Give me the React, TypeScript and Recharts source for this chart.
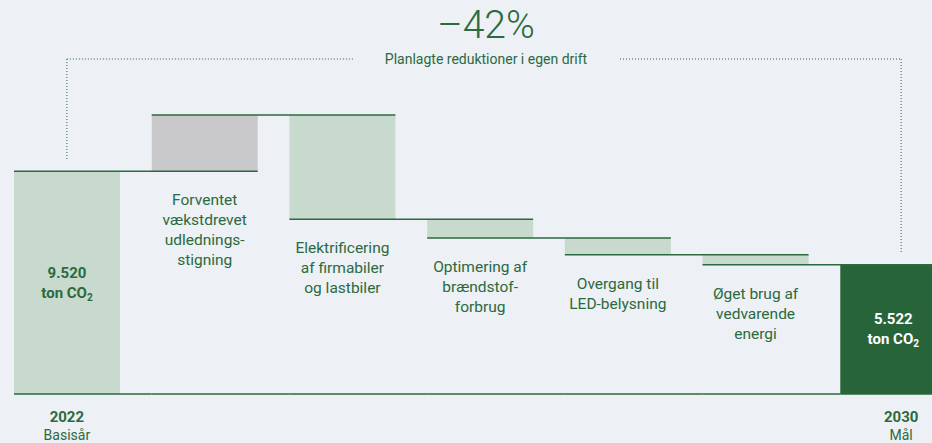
import React from 'react';
import { BarChart, Bar, XAxis, YAxis, LabelList } from 'recharts';

// Waterfall: CO2-reduktioner 2022 -> 2030
const categories = ['2022', 'Vækst', 'Elektrificering', 'Optimering', 'LED', 'Vedvarende', '2030'];
const changes = [9520, 2400, -4450, -800, -720, -428, 5522];
const kinds = ['total', 'up', 'down', 'down', 'down', 'down', 'total'];
const stepLabels = [
  [],
  ['Forventet', 'vækstdrevet', 'udlednings-', 'stigning'],
  ['Elektrificering', 'af firmabiler', 'og lastbiler'],
  ['Optimering af', 'brændstof-', 'forbrug'],
  ['Overgang til', 'LED-belysning'],
  ['Øget brug af', 'vedvarende', 'energi'],
  [],
];
const totalLabels = ['9.520', '', '', '', '', '', '5.522'];
const yearLabels = ['2022', '', '', '', '', '', '2030'];
const yearSubLabels = ['Basisår', '', '', '', '', '', 'Mål'];
const headline = '–42%';
const subtitle = 'Planlagte reduktioner i egen drift';

const FONT = 'Roboto, "Noto Sans", sans-serif';
const GREEN = '#2b6a3e';
const DARK = '#28643a';
const LIGHT = '#c8d9ce';
const GRAY = '#c9c9cc';
const BG = '#edf0f5';

const CHART_W = 964;
const CHART_H = 443;
const CHART_LEFT = -2;
const MARGIN = { top: 115, right: 0, bottom: 19, left: 0 };
const XAXIS_H = 30;
const PLOT_TOP = MARGIN.top;
const PLOT_BOTTOM = CHART_H - MARGIN.bottom - XAXIS_H;
const BAND = CHART_W / categories.length;

// build range data for the waterfall
let level = 0;
const data = categories.map((name, i) => {
  let range: [number, number];
  if (kinds[i] === 'total') {
    range = [0, changes[i]];
    level = changes[i];
  } else {
    const start = level;
    level += changes[i];
    range = [Math.min(start, level), Math.max(start, level)];
  }
  return { name, range, kind: kinds[i] };
});
const maxLevel = Math.max(...data.map(d => d.range[1]));

const barFill = (i: number) => {
  if (kinds[i] === 'up') return GRAY;
  if (kinds[i] === 'total' && i > 0) return DARK;
  return LIGHT;
};

const BarShape = (props: any) => {
  const { x, y, width, height, index } = props;
  const top = Math.min(y, y + height);
  const h = Math.abs(height);
  return <rect x={x} y={top} width={width} height={h} fill={barFill(index)} />;
};

// connectors, baseline and texts drawn on top of all bars
const BarOverlay = (props: any) => {
  const { x, y, width, height, index } = props;
  const top = Math.min(y, y + height);
  const bottom = top + Math.abs(height);
  const kind = kinds[index];
  const endY = kind === 'down' ? bottom : top;
  const last = index === categories.length - 1;
  const cx = x + width / 2;
  const lines = stepLabels[index];
  return (
    <g>
      <line x1={x} x2={x + BAND} y1={PLOT_BOTTOM} y2={PLOT_BOTTOM} stroke={GREEN} strokeWidth={1.5} />
      {!last && (
        <line x1={x} x2={x + BAND + width} y1={endY} y2={endY} stroke={GREEN} strokeWidth={1.5} />
      )}
      {lines.length > 0 && (
        <text textAnchor="middle" fill={GREEN} fontFamily={FONT} fontSize={15.5}>
          {lines.map((t, k) => (
            <tspan key={k} x={cx} y={bottom + 34 + k * 20}>{t}</tspan>
          ))}
        </text>
      )}
      {kind === 'total' && (
        <text
          textAnchor="middle"
          fill={index === 0 ? GREEN : '#ffffff'}
          fontFamily={FONT}
          fontSize={15}
          fontWeight={700}
        >
          <tspan x={cx} y={(top + bottom) / 2 - 5}>{totalLabels[index]}</tspan>
          <tspan x={cx} y={(top + bottom) / 2 + 15}>ton CO</tspan>
          <tspan fontSize={10} dy={3}>2</tspan>
        </text>
      )}
    </g>
  );
};

const YearTick = (props: any) => {
  const { x, y, payload, index } = props;
  const i = index ?? categories.indexOf(payload.value);
  if (!yearLabels[i]) return null;
  const dx = i === categories.length - 1 ? 8 : 0;
  return (
    <g transform={`translate(${x + dx},${y})`}>
      <text textAnchor="middle" fill={GREEN} fontFamily={FONT} fontSize={15} fontWeight={700} y={28}>
        {yearLabels[i]}
      </text>
      <text textAnchor="middle" fill={GREEN} fontFamily={FONT} fontSize={14} y={46}>
        {yearSubLabels[i]}
      </text>
    </g>
  );
};

const xCenter = (i: number) => CHART_LEFT + BAND * (i + 0.5);
const yOf = (v: number) => PLOT_TOP + (1 - v / maxLevel) * (PLOT_BOTTOM - PLOT_TOP);

const Bracket = () => {
  const lx = xCenter(0);
  const rx = xCenter(categories.length - 1) + 8;
  const cx = (lx + rx) / 2 + 2;
  const ly = 59;
  const dot = { stroke: GREEN, strokeWidth: 1, strokeDasharray: '1 2' };
  return (
    <svg width={932} height={443} style={{ position: 'absolute', left: 0, top: 0, pointerEvents: 'none' }}>
      <text x={cx} y={38} textAnchor="middle" fill={GREEN} fontFamily={FONT} fontSize={39} fontWeight={300}>
        {headline}
      </text>
      <text x={cx} y={64} textAnchor="middle" fill={GREEN} fontFamily={FONT} fontSize={14}>
        {subtitle}
      </text>
      <line x1={lx} x2={cx - 133} y1={ly} y2={ly} {...dot} />
      <line x1={cx + 134} x2={rx} y1={ly} y2={ly} {...dot} />
      <line x1={lx} x2={lx} y1={ly} y2={yOf(data[0].range[1]) - 11} {...dot} />
      <line x1={rx} x2={rx} y1={ly} y2={yOf(data[data.length - 1].range[1]) - 12} {...dot} />
    </svg>
  );
};

export default function App() {
  return (
    <div style={{ position: 'fixed', left: 0, top: 0, width: 932, height: 443, overflow: 'hidden', background: BG }}>
      <div style={{ position: 'absolute', left: CHART_LEFT, top: 0 }}>
        <BarChart width={CHART_W} height={CHART_H} data={data} margin={MARGIN} barCategoryGap={16}>
          <XAxis
            dataKey="name"
            axisLine={false}
            tickLine={false}
            tickSize={0}
            tickMargin={0}
            height={XAXIS_H}
            interval={0}
            tick={<YearTick />}
          />
          <YAxis hide domain={[0, 'dataMax']} />
          <Bar dataKey="range" isAnimationActive={false} shape={<BarShape />}>
            <LabelList dataKey="range" content={<BarOverlay />} />
          </Bar>
        </BarChart>
      </div>
      <Bracket />
    </div>
  );
}
